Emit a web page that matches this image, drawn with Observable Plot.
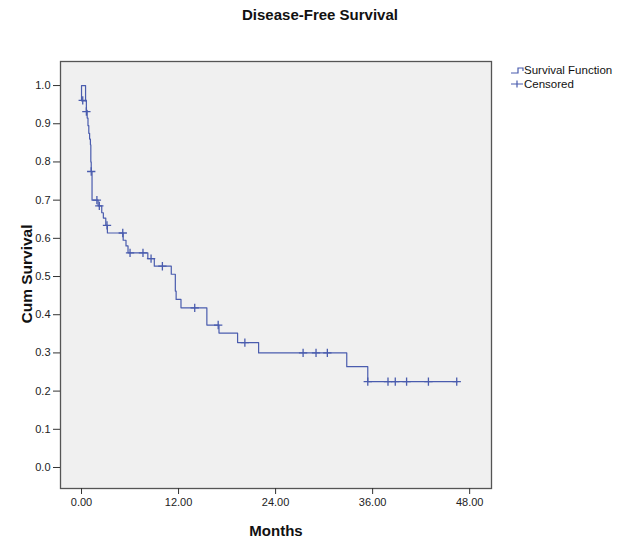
<!DOCTYPE html>
<html>
<head>
<meta charset="utf-8">
<script src="https://cdn.jsdelivr.net/npm/d3@7"></script>
<script src="https://cdn.jsdelivr.net/npm/@observablehq/plot@0.6"></script>
<style>
  body { margin: 0; background: #fff; font-family: "Liberation Sans", Arial, sans-serif; }
  #wrap { position: relative; width: 630px; height: 551px; overflow: hidden; }
  #title { position: absolute; left: 0; width: 640px; top: 6px; text-align: center; font-weight: bold; font-size: 15px; color: #111; }
  #ylab { position: absolute; left: 27px; top: 274px; transform: translate(-50%, -50%) rotate(-90deg); font-weight: bold; font-size: 15.5px; color: #111; white-space: nowrap; }
  #xlab { position: absolute; left: 276px; top: 530px; transform: translate(-50%, -50%); font-weight: bold; font-size: 15px; color: #111; white-space: nowrap; }
  #legend { position: absolute; left: 508px; top: 63px; font-size: 11.5px; color: #111; }
  #legend div { display: flex; align-items: center; height: 14px; }
  #legend svg { margin-right: 0px; }
  #chart { position: absolute; left: 0; top: 0; }
</style>
</head>
<body>
<div id="wrap">
  <div id="chart"></div>
  <div id="title">Disease-Free Survival</div>
  <div id="ylab">Cum Survival</div>
  <div id="xlab">Months</div>
  <div id="legend">
    <div><svg width="16" height="10"><path d="M3,8H10V3H15V6" fill="none" stroke="#4a5cae" stroke-width="1.2"/></svg>Survival Function</div>
    <div><svg width="16" height="10"><path d="M3,5H15M9,1.5V8.5" fill="none" stroke="#4a5cae" stroke-width="1.2"/></svg>Censored</div>
  </div>
</div>
<script>
// Initial box drawn at time zero (months, cumulative survival)
const boxTimes = [0.5, 0, 0, 0.5, 0.5];
const boxSurv  = [0.96, 0.96, 1.0, 1.0, 0.96];

// Survival step function: event times (months) and survival after each step
const stepTimes = [0.5, 0.6, 0.7, 0.8, 0.9, 1.0, 1.1, 1.15, 1.2, 1.3, 2.05, 2.5, 2.7, 3.0, 3.2, 5.15, 5.5, 5.75, 8.2, 9.0, 11.1, 11.6, 11.7, 12.3, 15.5, 17.0, 19.3, 21.9, 32.8, 35.4, 46.5];
const stepSurv  = [0.96, 0.935, 0.915, 0.895, 0.875, 0.86, 0.845, 0.80, 0.775, 0.70, 0.685, 0.667, 0.653, 0.634, 0.614, 0.595, 0.58, 0.562, 0.547, 0.527, 0.506, 0.462, 0.44, 0.418, 0.373, 0.352, 0.327, 0.30, 0.264, 0.225, 0.225];

// Censored observations
const censorTimes = [0.15, 0.6, 1.2, 1.9, 2.2, 3.15, 5.1, 6.0, 7.6, 8.6, 10.0, 14.0, 16.9, 20.2, 27.4, 29.0, 30.4, 35.4, 37.9, 38.8, 40.2, 42.9, 46.4];
const censorSurv  = [0.961, 0.932, 0.775, 0.70, 0.685, 0.634, 0.614, 0.562, 0.562, 0.547, 0.527, 0.418, 0.373, 0.327, 0.30, 0.30, 0.30, 0.225, 0.225, 0.225, 0.225, 0.225, 0.225];

const xTicks = [0, 12, 24, 36, 48];
const yTicks = [0, 0.1, 0.2, 0.3, 0.4, 0.5, 0.6, 0.7, 0.8, 0.9, 1.0];

const box = boxTimes.map((t, i) => ({t, s: boxSurv[i]}));
const steps = stepTimes.map((t, i) => ({t, s: stepSurv[i]}));
const censored = censorTimes.map((t, i) => ({t, s: censorSurv[i]}));

const blue = "#4a5cae";

const chart = Plot.plot({
  width: 630,
  height: 551,
  marginLeft: 60,
  marginRight: 139,
  marginTop: 61,
  marginBottom: 63,
  style: { fontFamily: "'Liberation Sans', Arial, sans-serif", fontSize: "11px", color: "#222", background: "transparent" },
  x: { domain: [-2.6, 50.7] },
  y: { domain: [-0.055, 1.063] },
  marks: [
    Plot.frame({ fill: "#f0f0f0", stroke: null }),
    Plot.line(box, { x: "t", y: "s", stroke: blue, strokeWidth: 1.2, curve: "linear" }),
    Plot.line(steps, { x: "t", y: "s", stroke: blue, strokeWidth: 1.2, curve: "step-after" }),
    Plot.dot(censored, { x: "t", y: "s", symbol: "plus", r: 2.8, stroke: blue, strokeWidth: 1.3 }),
    Plot.frame({ stroke: "#555", strokeWidth: 1.3 }),
    Plot.axisX({ ticks: xTicks, tickFormat: d => d.toFixed(2), tickSize: 6, tickPadding: 4, label: null, stroke: "#333" }),
    Plot.axisY({ ticks: yTicks, tickFormat: d => d.toFixed(1), tickSize: 7, tickPadding: 3, label: null, stroke: "#333" })
  ]
});
document.getElementById("chart").appendChild(chart);
</script>
</body>
</html>
